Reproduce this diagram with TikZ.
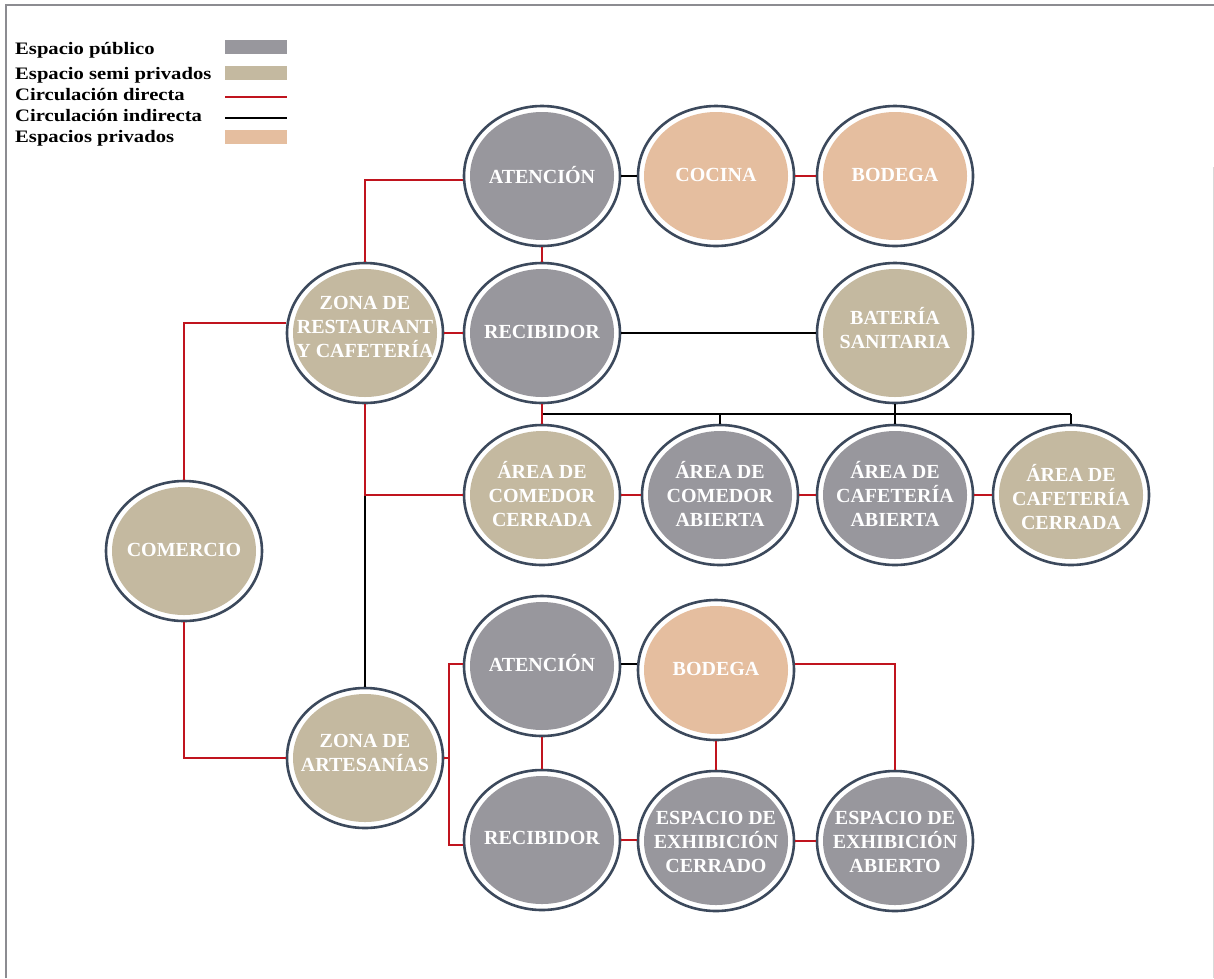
\documentclass[tikz,border=0pt]{standalone}
\usepackage{fontspec}
\setmainfont{Liberation Serif}
\newfontfamily\legfont[FakeStretch=1.18]{Liberation Serif}
\usetikzlibrary{shapes.geometric,calc}
\definecolor{pub}{RGB}{152,151,157}
\definecolor{semi}{RGB}{196,185,160}
\definecolor{priv}{RGB}{229,190,159}
\definecolor{ring}{RGB}{60,73,92}
\definecolor{dred}{RGB}{192,20,30}
\definecolor{framec}{RGB}{140,140,145}
\tikzset{
  bub/.style={ellipse, minimum width=156pt, minimum height=140pt, inner sep=0pt,
    draw=ring, line width=2.6pt, fill=white,
    path picture={\fill[#1] (path picture bounding box.center) ellipse (72pt and 64pt);}},
  bt/.style={align=center, text=white, inner sep=0pt,
    font=\bfseries\fontsize{20}{24}\selectfont},
  dline/.style={draw=dred, line width=1.8pt},
  iline/.style={draw=black, line width=1.8pt},
  legtext/.style={anchor=base west, inner sep=0pt, font=\legfont\bfseries\fontsize{17.5}{20}\selectfont},
  swatch/.style={anchor=north west, minimum width=62pt, minimum height=14pt, inner sep=0pt}
}
\begin{document}
\begin{tikzpicture}[x=1pt,y=-1pt]
\useasboundingbox (0,0) rectangle (1214,978);
% frame
\draw[framec, line width=2pt] (6,978) -- (6,5) -- (1214,5);
\draw[black!15, line width=1pt] (1213,167) -- (1213,978);

% legend
\node[legtext] (l1) at (15,54) {Espacio público};
\node[legtext] (l2) at (15,79) {Espacio semi privados};
\node[legtext] (l3) at (15,100) {Circulación directa};
\node[legtext] (l4) at (15,121) {Circulación indirecta};
\node[legtext] (l5) at (15,142) {Espacios privados};
\node[swatch, fill=pub] (s1) at (225,40) {};
\node[swatch, fill=semi] (s2) at (225,66) {};
\coordinate (s3a) at (225,97); \coordinate (s3b) at (287,97);
\draw[dline] (s3a) -- (s3b);
\coordinate (s4a) at (225,118); \coordinate (s4b) at (287,118);
\draw[iline] (s4a) -- (s4b);
\node[swatch, fill=priv] (s5) at (225,130) {};

% bubbles
\node[bub=pub]  (A1)  at (542,176) {};
\node[bub=priv] (COC) at (716,176) {};
\node[bub=priv] (BOD1) at (895,176) {};
\node[bub=semi] (ZR)  at (365,333) {};
\node[bub=pub]  (REC1) at (542,333) {};
\node[bub=semi] (BAT) at (895,333) {};
\node[bub=semi] (ACC) at (542,495) {};
\node[bub=pub]  (ACA) at (720,495) {};
\node[bub=pub]  (AFA) at (895,495) {};
\node[bub=semi] (AFC) at (1071,495) {};
\node[bub=semi] (COM) at (184,551) {};
\node[bub=pub]  (A2)  at (542,666) {};
\node[bub=priv] (BOD2) at (716,670) {};
\node[bub=semi] (ZA)  at (365,758) {};
\node[bub=pub]  (REC2) at (542,840) {};
\node[bub=pub]  (EEC) at (716,841) {};
\node[bub=pub]  (EEA) at (895,841) {};

% labels
\node[bt] (A1t)  at (542,175) {ATENCIÓN};
\node[bt] (COCt) at (716,175) {COCINA};
\node[bt] (BOD1t) at (895,175) {BODEGA};
\node[bt] (ZRt)  at (365,327) {ZONA DE\\RESTAURANT\\Y CAFETERÍA};
\node[bt] (REC1t) at (542,332) {RECIBIDOR};
\node[bt] (BATt) at (895,328) {BATERÍA\\SANITARIA};
\node[bt] (ACCt) at (542,494) {ÁREA DE\\COMEDOR\\CERRADA};
\node[bt] (ACAt) at (720,494) {ÁREA DE\\COMEDOR\\ABIERTA};
\node[bt] (AFAt) at (895,494) {ÁREA DE\\CAFETERÍA\\ABIERTA};
\node[bt] (AFCt) at (1071,497) {ÁREA DE\\CAFETERÍA\\CERRADA};
\node[bt] (COMt) at (184,550) {COMERCIO};
\node[bt] (A2t)  at (542,663) {ATENCIÓN};
\node[bt] (BOD2t) at (716,669) {BODEGA};
\node[bt] (ZAt)  at (365,753) {ZONA DE\\ARTESANÍAS};
\node[bt] (REC2t) at (542,838) {RECIBIDOR};
\node[bt] (EECt) at (716,842) {ESPACIO DE\\EXHIBICIÓN\\CERRADO};
\node[bt] (EEAt) at (895,842) {ESPACIO DE\\EXHIBICIÓN\\ABIERTO};

% indirect circulation (black)
\coordinate (bus) at (0,414);
\coordinate (j1) at (ZR.south |- ACC.west);
\draw[iline] (A1.east) -- (COC.west);
\draw[iline] (REC1.east) -- (BAT.west);
\draw[iline] (REC1.south |- bus) -- (AFC.north |- bus);
\draw[iline] (ACA.north) -- (ACA.north |- bus);
\draw[iline] (BAT.south) -- (AFA.north);
\draw[iline] (AFC.north) -- (AFC.north |- bus);
\draw[iline] (j1) -- (ZA.north);
\draw[iline] ($(A2.east)+(0,-2)$) -- ($(BOD2.west)+(0,-6)$);

% direct circulation (red)
\draw[dline] (COM.north) |- ($(ZR.west)+(0,-10)$);
\draw[dline] (ZR.north) |- ($(A1.west)+(0,4)$);
\draw[dline] (ZR.east) -- (REC1.west);
\draw[dline] (A1.south) -- (REC1.north);
\draw[dline] (COC.east) -- (BOD1.west);
\draw[dline] (REC1.south) -- (ACC.north);
\draw[dline] (ZR.south) -- (j1) -- (ACC.west);
\draw[dline] (ACC.east) -- (ACA.west);
\draw[dline] (ACA.east) -- (AFA.west);
\draw[dline] (AFA.east) -- (AFC.west);
\draw[dline] (COM.south) |- (ZA.west);
\coordinate (jA) at ($(ZA.east)+(5,0)$);
\draw[dline] (ZA.east) -- (jA);
\draw[dline] ($(A2.west)+(0,-2)$) -| (jA) |- ($(REC2.west)+(0,5)$);
\draw[dline] (A2.south) -- (REC2.north);
\draw[dline] ($(BOD2.east)+(0,-6)$) -| (EEA.north);
\draw[dline] (BOD2.south) -- (EEC.north);
\draw[dline] (REC2.east) -- (REC2.east -| EEC.west);
\draw[dline] (EEC.east) -- (EEA.west);
\end{tikzpicture}
\end{document}
